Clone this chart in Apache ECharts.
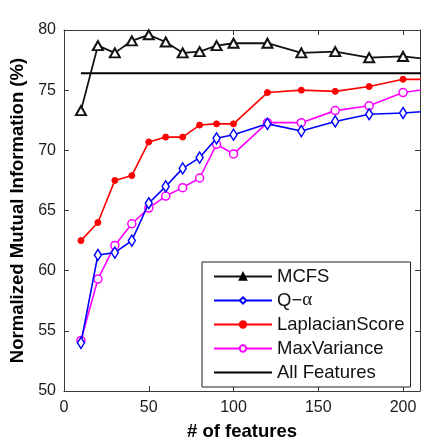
<!DOCTYPE html>
<html>
<head>
<meta charset="utf-8">
<script src="https://cdn.jsdelivr.net/npm/echarts@6/dist/echarts.min.js"></script>
<style>
  html, body { margin: 0; padding: 0; background: #fff; }
  #chart { width: 421px; height: 446px; }
</style>
</head>
<body>
<div id="chart"></div>
<script>
// Number of selected features (the last point lies past the axis end and is clipped)
const features = [10, 20, 30, 40, 50, 60, 70, 80, 90, 100, 120, 140, 160, 180, 200, 220];

// Normalized mutual information (%) per method
const mcfs        = [73.3, 78.7, 78.1, 79.1, 79.6, 79.0, 78.1, 78.2, 78.7, 78.9, 78.9, 78.1, 78.2, 77.7, 77.8, 77.5];
const qAlpha      = [54.0, 61.3, 61.5, 62.5, 65.6, 67.0, 68.5, 69.4, 71.0, 71.3, 72.2, 71.6, 72.4, 73.0, 73.1, 73.3];
const laplacian   = [62.5, 64.0, 67.5, 67.9, 70.7, 71.1, 71.1, 72.1, 72.2, 72.2, 74.8, 75.0, 74.9, 75.3, 75.9, 75.9];
const maxVariance = [54.2, 59.3, 62.1, 63.9, 65.2, 66.2, 66.9, 67.7, 70.5, 69.7, 72.3, 72.3, 73.3, 73.7, 74.8, 75.2];

// Baseline using all features
const allFeaturesX = [10, 220];
const allFeatures  = 76.4;

const seriesNames = ['MCFS', 'Q\u2212\u03b1', 'LaplacianScore', 'MaxVariance', 'All Features'];

const xTicks = [0, 50, 100, 150, 200];
const yTicks = [50, 55, 60, 65, 70, 75, 80];

const pairs = (xs, ys) => xs.map((x, i) => [x, ys[i]]);

const FONT = '"Liberation Sans", Arial, sans-serif';
const AXIS_COLOR = '#3a3a3a';

const chart = echarts.init(document.getElementById('chart'), null, { renderer: 'canvas' });

const baseX = {
  type: 'value', min: xTicks[0], max: 210, interval: 50,
  splitLine: { show: false },
  axisLine: { show: true, onZero: false, lineStyle: { color: AXIS_COLOR, width: 1 } },
  axisTick: { show: true, inside: true, length: 5, lineStyle: { color: AXIS_COLOR } }
};
const baseY = {
  type: 'value', min: yTicks[0], max: yTicks[yTicks.length - 1], interval: 5,
  splitLine: { show: false },
  axisLine: { show: true, onZero: false, lineStyle: { color: AXIS_COLOR, width: 1 } },
  axisTick: { show: true, inside: true, length: 5, lineStyle: { color: AXIS_COLOR } }
};

const option = {
  backgroundColor: '#fff',
  animation: false,
  grid: { left: 64, top: 30, right: 1, bottom: 51, containLabel: false },
  xAxis: [
    Object.assign({}, baseX, {
      position: 'bottom',
      name: '# of features',
      nameLocation: 'middle',
      nameGap: 31,
      nameTextStyle: { fontFamily: FONT, fontSize: 18.5, fontWeight: 'bold', color: '#000' },
      axisLabel: {
        show: true, margin: 9, showMaxLabel: false,
        fontFamily: FONT, fontSize: 16, color: '#1a1a1a'
      }
    }),
    Object.assign({}, baseX, { position: 'top', axisLabel: { show: false } })
  ],
  yAxis: [
    Object.assign({}, baseY, {
      position: 'left',
      name: 'Normalized Mutual Information (%)',
      nameLocation: 'middle',
      nameRotate: 90,
      nameGap: 35,
      nameTextStyle: { fontFamily: FONT, fontSize: 18.5, fontWeight: 'bold', color: '#000' },
      axisLabel: { show: true, margin: 8, fontFamily: FONT, fontSize: 16, color: '#1a1a1a' }
    }),
    Object.assign({}, baseY, { position: 'right', axisLabel: { show: false } })
  ],
  legend: {
    orient: 'vertical',
    left: 202,
    top: 262,
    padding: [5, 6, 5, 11],
    itemWidth: 58,
    itemHeight: 8,
    itemGap: 5,
    backgroundColor: '#fff',
    borderColor: '#222',
    borderWidth: 1,
    borderRadius: 0,
    data: [
      { name: seriesNames[0], itemStyle: { color: '#000', borderColor: '#000' } },
      { name: seriesNames[1] },
      { name: seriesNames[2] },
      { name: seriesNames[3] },
      { name: seriesNames[4], itemStyle: { opacity: 0, borderWidth: 0 } }
    ],
    formatter: (name) => name === seriesNames[1] ? 'Q\u2212{a|\u03b1}' : name,
    textStyle: {
      fontFamily: FONT, fontSize: 18.5, color: '#111', padding: [0, 0, 0, 0],
      rich: { a: { fontFamily: '"Liberation Serif", "Times New Roman", serif', fontSize: 19, color: '#111' } }
    }
  },
  series: [
    {
      name: seriesNames[4], type: 'line', z: 1,
      data: pairs(allFeaturesX, allFeaturesX.map(() => allFeatures)),
      symbol: 'none',
      lineStyle: { color: '#000', width: 2 },
      itemStyle: { color: '#000' }
    },
    {
      name: seriesNames[0], type: 'line', z: 5,
      data: pairs(features, mcfs),
      symbol: 'triangle', symbolSize: [10, 9],
      lineStyle: { color: '#111', width: 1.8 },
      itemStyle: { color: '#fff', borderColor: '#111', borderWidth: 2 }
    },
    {
      name: seriesNames[1], type: 'line', z: 3,
      data: pairs(features, qAlpha),
      symbol: 'diamond', symbolSize: [7, 11],
      lineStyle: { color: '#0000ff', width: 1.6 },
      itemStyle: { color: '#fff', borderColor: '#0000ff', borderWidth: 1.5 }
    },
    {
      name: seriesNames[2], type: 'line', z: 4,
      data: pairs(features, laplacian),
      symbol: 'circle', symbolSize: 6,
      lineStyle: { color: '#ff0000', width: 1.6 },
      itemStyle: { color: '#ff0000', borderColor: '#ff0000', borderWidth: 1 }
    },
    {
      name: seriesNames[3], type: 'line', z: 2,
      data: pairs(features, maxVariance),
      symbol: 'circle', symbolSize: 8,
      lineStyle: { color: '#ff00ff', width: 1.6 },
      itemStyle: { color: '#fff', borderColor: '#ff00ff', borderWidth: 1.5 }
    }
  ]
};

chart.setOption(option);
</script>
</body>
</html>
